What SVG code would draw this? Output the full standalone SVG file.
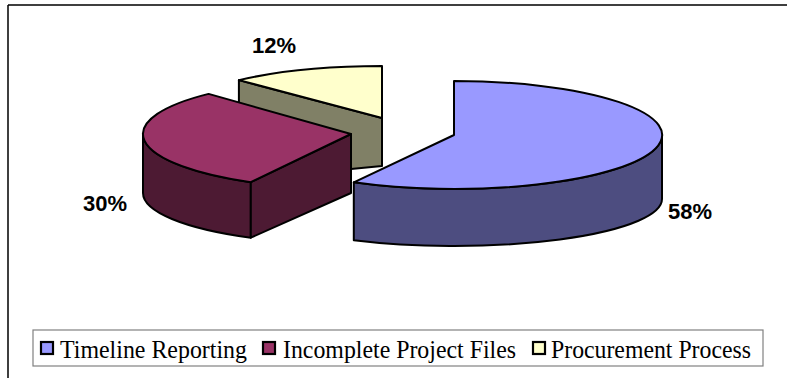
<svg xmlns="http://www.w3.org/2000/svg" width="787" height="378" viewBox="0 0 787 378">
  <style>
    .edge { stroke: #000; stroke-width: 2; stroke-linejoin: round; }
    .pct { font-family: "Liberation Sans", Arial, sans-serif; font-weight: bold; font-size: 22px; fill: #000; }
    .leg { font-family: "Liberation Serif", "Times New Roman", serif; font-size: 26px; fill: #000; }
    .sw { stroke: #000; stroke-width: 2.2; }
  </style>
  <rect width="787" height="378" fill="#fff"/>
  <!-- chart frame: top and left rules -->
  <path d="M8,5 H787 M8,5 V378" fill="none" stroke="#000" stroke-width="1.5"/>

  <!-- Procurement Process, 12% -->
  <g id="slice-procurement">
    <path class="edge" fill="#808066" d="M238.9,80.1 L382,118 L382,166 L351,169 L238.9,181 Z"/>
    <path class="edge" fill="#FFFFCC" d="M382,118 L238.9,80.1 A209,52 0 0 1 382,66 Z"/>
    <text class="pct" x="252" y="53">12%</text>
  </g>

  <!-- Incomplete Project Files, 30% -->
  <g id="slice-incomplete">
    <path class="edge" fill="#4D1A33" d="M250.8,182.2 A208,55 0 0 1 143,134 L143,193 A208,51 0 0 0 250.8,237.7 Z"/>
    <path class="edge" fill="#4D1A33" d="M351,134 L250.8,182.2 L250.8,237.7 L351,193 Z"/>
    <path class="edge" fill="#993366" d="M351,134 L250.8,182.2 A208,55 0 0 1 208.6,93.9 Z"/>
    <text class="pct" x="83" y="211">30%</text>
  </g>

  <!-- Timeline Reporting, 58% -->
  <g id="slice-timeline">
    <path class="edge" fill="#4D4D80" d="M662,135 A208,54 0 0 1 353.8,182.3 L353.8,240.2 A208,47 0 0 0 662,199 Z"/>
    <path class="edge" fill="#9999FF" d="M454,135 L454,81 A208,54 0 1 1 353.8,182.3 Z"/>
    <text class="pct" x="668" y="219">58%</text>
  </g>

  <!-- legend -->
  <g id="legend">
    <rect x="33" y="330" width="730" height="36" fill="#fff" stroke="#808080" stroke-width="1.2"/>
    <rect class="sw" x="41" y="342" width="12" height="12" fill="#9999FF"/>
    <text class="leg" x="60" y="358" textLength="187" lengthAdjust="spacingAndGlyphs">Timeline Reporting</text>
    <rect class="sw" x="263" y="342" width="12" height="12" fill="#993366"/>
    <text class="leg" x="283" y="358" textLength="233" lengthAdjust="spacingAndGlyphs">Incomplete Project Files</text>
    <rect class="sw" x="533" y="342" width="12" height="12" fill="#FFFFCC"/>
    <text class="leg" x="551" y="358" textLength="200" lengthAdjust="spacingAndGlyphs">Procurement Process</text>
  </g>
</svg>
